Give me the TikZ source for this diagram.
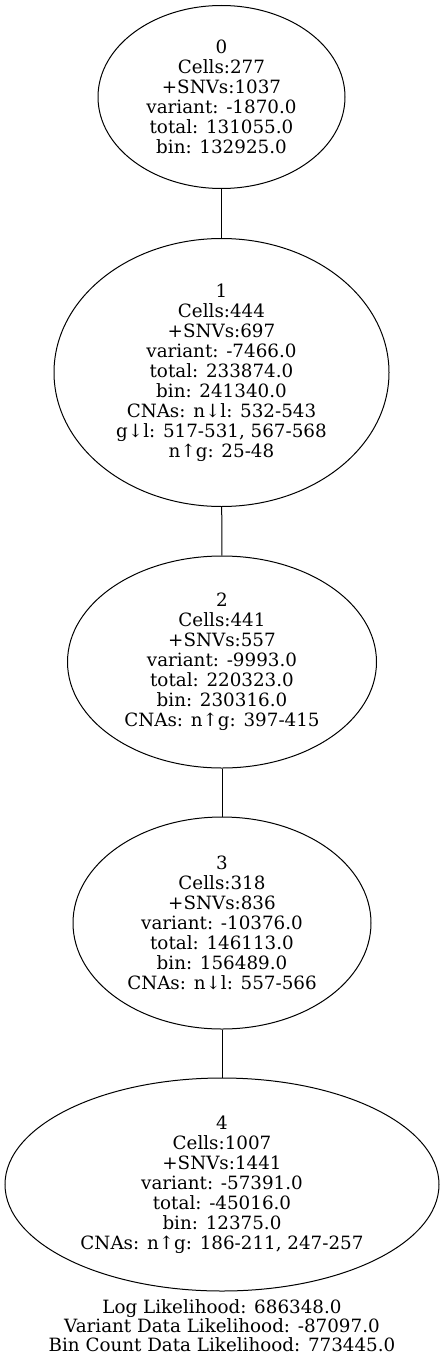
\documentclass[tikz,border=0pt]{standalone}
\usepackage{fontspec}
\setmainfont{DejaVu Serif}
\usetikzlibrary{shapes.geometric}
\begin{document}
\begin{tikzpicture}[x=1pt,y=-1pt,
  tnode/.style={draw, ellipse, inner sep=-30pt, align=center, font=\fontsize{18.3}{20}\selectfont, line width=1pt},
  lbl/.style={align=center, font=\fontsize{18.3}{19}\selectfont, inner sep=0pt},
  edge/.style={line width=1pt}]
\useasboundingbox (0,0) rectangle (444,1362);
\node[tnode, minimum width=247pt, minimum height=183pt] (n0) at (221.5,97)
  {0\\Cells:277\\+SNVs:1037\\variant: -1870.0\\total: 131055.0\\bin: 132925.0};
\node[tnode, minimum width=335pt, minimum height=268pt] (n1) at (221.5,372.5)
  {1\\Cells:444\\+SNVs:697\\variant: -7466.0\\total: 233874.0\\bin: 241340.0\\CNAs: n↓l: 532-543\\g↓l: 517-531, 567-568\\n↑g: 25-48};
\node[tnode, minimum width=309pt, minimum height=212pt] (n2) at (222,662)
  {2\\Cells:441\\+SNVs:557\\variant: -9993.0\\total: 220323.0\\bin: 230316.0\\CNAs: n↑g: 397-415};
\node[tnode, minimum width=298pt, minimum height=212pt] (n3) at (222,923)
  {3\\Cells:318\\+SNVs:836\\variant: -10376.0\\total: 146113.0\\bin: 156489.0\\CNAs: n↓l: 557-566};
\node[tnode, minimum width=434pt, minimum height=213pt] (n4) at (222,1184.5)
  {4\\Cells:1007\\+SNVs:1441\\variant: -57391.0\\total: -45016.0\\bin: 12375.0\\CNAs: n↑g: 186-211, 247-257};
\node[lbl] (ll) at (222,1326)
  {Log Likelihood: 686348.0\\Variant Data Likelihood: -87097.0\\Bin Count Data Likelihood: 773445.0};
\draw[edge] (n0) -- (n1);
\draw[edge] (n1) -- (n2);
\draw[edge] (n2) -- (n3);
\draw[edge] (n3) -- (n4);
\end{tikzpicture}
\end{document}
